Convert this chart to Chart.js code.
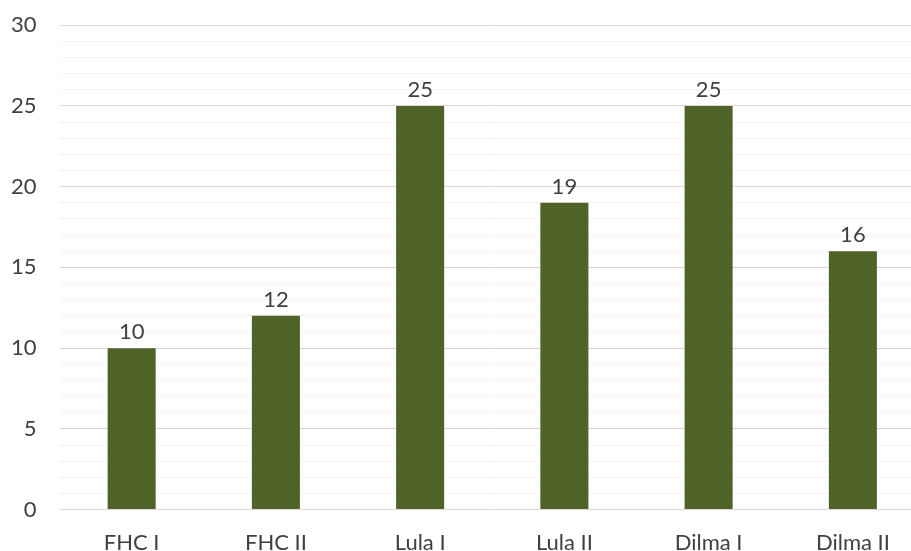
<!DOCTYPE html>
<html>
<head>
<meta charset="utf-8">
<script src="https://cdn.jsdelivr.net/npm/chart.js@4/dist/chart.umd.min.js"></script>
<style>
    html, body { margin: 0; padding: 0; background: #fff; overflow: hidden; }
    #wrap { width: 925px; height: 580px; margin-top: -11px; }
</style>
</head>
<body>
<div id="wrap">
    <canvas id="barChart" width="925" height="580"></canvas>
</div>
<script>
const categories = ['FHC I', 'FHC II', 'Lula I', 'Lula II', 'Dilma I', 'Dilma II'];
const values = [10, 12, 25, 19, 25, 16];
const yMin = 0;
const yMax = 30;

const FONT = "'Century Gothic', Lato, 'DejaVu Sans', sans-serif";
const TEXT = '#404040';

// simple value labels above each bar
const valueLabels = {
    id: 'valueLabels',
    afterDatasetsDraw(chart) {
        const ctx = chart.ctx;
        const meta = chart.getDatasetMeta(0);
        ctx.save();
        ctx.font = '22px ' + FONT;
        ctx.fillStyle = TEXT;
        ctx.textAlign = 'center';
        ctx.textBaseline = 'alphabetic';
        meta.data.forEach((bar, i) => {
            ctx.fillText(String(values[i]), bar.x, bar.y - 9);
        });
        ctx.restore();
    }
};

new Chart(document.getElementById('barChart'), {
    type: 'bar',
    data: {
        labels: categories,
        datasets: [{
            data: values,
            backgroundColor: '#4f6228',
            barPercentage: 1,
            categoryPercentage: 0.333
        }]
    },
    options: {
        responsive: false,
        animation: false,
        layout: {
            padding: { left: -12, top: 1.5, right: 0, bottom: 0 }
        },
        plugins: {
            legend: { display: false },
            tooltip: { enabled: false }
        },
        scales: {
            x: {
                grid: { display: false },
                border: { display: false },
                ticks: {
                    color: TEXT,
                    font: { family: FONT, size: 22 },
                    padding: 12.5,
                    maxRotation: 0
                }
            },
            y: {
                min: yMin,
                max: yMax,
                border: { display: false },
                grid: {
                    drawTicks: false,
                    color: c => (c.tick && c.tick.value % 5 === 0) ? '#d9d9d9' : '#f2f2f2',
                    lineWidth: 1
                },
                ticks: {
                    stepSize: 1,
                    autoSkip: false,
                    color: TEXT,
                    font: { family: FONT, size: 22 },
                    padding: 23,
                    callback: v => v % 5 === 0 ? v : ''
                }
            }
        }
    },
    plugins: [valueLabels]
});
</script>
</body>
</html>
